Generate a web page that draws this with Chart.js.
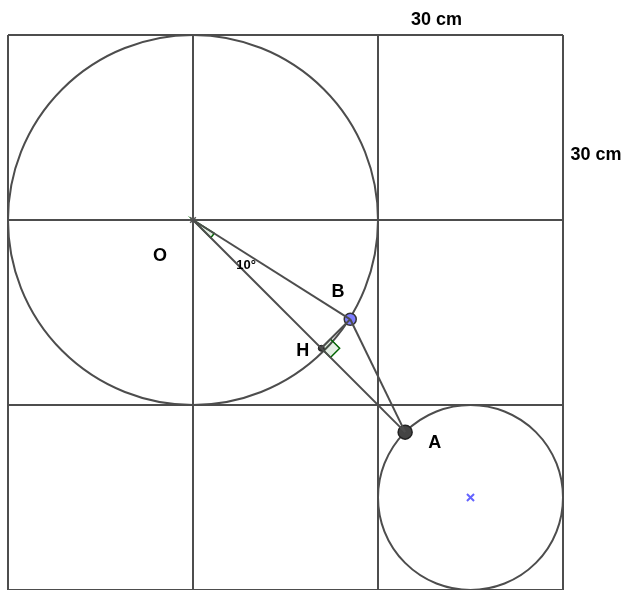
<!DOCTYPE html>
<html>
<head>
<meta charset="utf-8">
<title>Cercles</title>
<script src="https://cdn.jsdelivr.net/npm/chart.js@4/dist/chart.umd.min.js"></script>
<style>
    body { margin: 0; background: #fff; overflow: hidden; }
    canvas { display: block; }
</style>
</head>
<body>
<canvas id="chartCanvas" width="624" height="590"></canvas>
<script>
// grid lines (cm), one square = 30 cm
const gridTicks = [0, 30, 60, 90];

// circles: centre and radius in cm
const circleX = [30, 75];
const circleY = [60, 15];
const circleR = [30, 15];

// named points (cm)
const pointNames = ['O', 'A', 'B', 'H', 'C'];
const pointX = [30, 64.4, 55.5, 50.8, 75];
const pointY = [60, 25.6, 43.9, 39.2, 15];

// segments between named points
const segments = [['O', 'B'], ['O', 'A'], ['B', 'A'], ['B', 'H']];

// text labels
const labelTexts = ['O', '10°', 'B', 'H', 'A', '30 cm', '30 cm'];
const labelX = [24.65, 38.6, 53.5, 47.8, 69.2, 69.5, 95.35];
const labelY = [54.2, 52.6, 48.4, 38.8, 23.9, 92.5, 70.5];
const labelSizes = [18, 13, 18, 18, 18, 18, 18];

const ctx = document.getElementById('chartCanvas').getContext('2d');

function pt(name) {
    const i = pointNames.indexOf(name);
    return { x: pointX[i], y: pointY[i] };
}

const lineColor = '#4d4d4d';

let datasets = segments.map(([a, b]) => ({
    data: [pt(a), pt(b)],
    showLine: true,
    borderColor: lineColor,
    borderWidth: 2,
    pointRadius: 0,
}));

// point markers
datasets.push({ data: [pt('O')], pointStyle: 'star', pointRadius: 4, borderColor: '#555', borderWidth: 1.5 });
datasets.push({ data: [pt('C')], pointStyle: 'crossRot', pointRadius: 5, borderColor: '#6464ff', borderWidth: 2 });
datasets.push({ data: [pt('H')], pointRadius: 3, backgroundColor: '#333', borderColor: '#222', borderWidth: 1 });
datasets.push({ data: [pt('B')], pointRadius: 6, backgroundColor: '#7d7dff', borderColor: '#333', borderWidth: 1.5 });
datasets.push({ data: [pt('A')], pointRadius: 7, backgroundColor: '#444', borderColor: '#222', borderWidth: 1.5 });

const geometry = {
    id: 'geometry',
    beforeDatasetsDraw(chart) {
        const { ctx, scales: { x, y } } = chart;
        const unit = x.getPixelForValue(1) - x.getPixelForValue(0);
        ctx.save();

        // circles
        ctx.strokeStyle = lineColor;
        ctx.lineWidth = 2;
        for (let i = 0; i < circleX.length; i++) {
            ctx.beginPath();
            ctx.arc(x.getPixelForValue(circleX[i]), y.getPixelForValue(circleY[i]), circleR[i] * unit, 0, Math.PI * 2);
            ctx.stroke();
        }

        const P = n => { const p = pt(n); return { x: x.getPixelForValue(p.x), y: y.getPixelForValue(p.y) }; };
        const O = P('O'), A = P('A'), B = P('B'), H = P('H');

        // angle mark at O between OB and OA
        const a1 = Math.atan2(B.y - O.y, B.x - O.x);
        const a2 = Math.atan2(A.y - O.y, A.x - O.x);
        ctx.beginPath();
        ctx.moveTo(O.x, O.y);
        ctx.arc(O.x, O.y, 25, a1, a2);
        ctx.closePath();
        ctx.fillStyle = 'rgba(0,100,0,0.1)';
        ctx.fill();
        ctx.strokeStyle = '#006400';
        ctx.lineWidth = 1.5;
        ctx.stroke();

        // right angle mark at H
        const s = 13;
        const ua = { x: (A.x - H.x), y: (A.y - H.y) };
        const la = Math.hypot(ua.x, ua.y);
        const ub = { x: (B.x - H.x), y: (B.y - H.y) };
        const lb = Math.hypot(ub.x, ub.y);
        const pa = { x: H.x + ua.x / la * s, y: H.y + ua.y / la * s };
        const pb = { x: H.x + ub.x / lb * s, y: H.y + ub.y / lb * s };
        ctx.beginPath();
        ctx.moveTo(H.x, H.y);
        ctx.lineTo(pa.x, pa.y);
        ctx.lineTo(pa.x + pb.x - H.x, pa.y + pb.y - H.y);
        ctx.lineTo(pb.x, pb.y);
        ctx.closePath();
        ctx.fill();
        ctx.stroke();
        ctx.restore();
    },
    afterDraw(chart) {
        const { ctx, scales: { x, y } } = chart;
        ctx.save();
        ctx.fillStyle = '#000';
        ctx.textAlign = 'center';
        ctx.textBaseline = 'middle';
        labelTexts.forEach((t, i) => {
            ctx.font = `bold ${labelSizes[i]}px "Liberation Sans", Arial, sans-serif`;
            ctx.fillText(t, x.getPixelForValue(labelX[i]), y.getPixelForValue(labelY[i]));
        });
        ctx.restore();
    }
};

const gridScale = {
    min: 0,
    max: 90,
    afterBuildTicks: (scale) => { scale.ticks = gridTicks.map(v => ({ value: v })); },
    afterFit: (scale) => {
        if (scale.isHorizontal()) scale.height = 0;
        else scale.width = 0;
    },
    grid: { color: lineColor, lineWidth: 2, drawTicks: false },
    border: { display: false },
    ticks: { display: false },
};

new Chart(ctx, {
    type: 'scatter',
    data: { datasets },
    options: {
        responsive: false,
        animation: false,
        layout: { autoPadding: false, padding: { left: 8, right: 61, top: 35, bottom: 0 } },
        scales: { x: gridScale, y: { ...gridScale } },
        plugins: { legend: { display: false }, tooltip: { enabled: false } },
    },
    plugins: [geometry],
});
</script>
</body>
</html>
